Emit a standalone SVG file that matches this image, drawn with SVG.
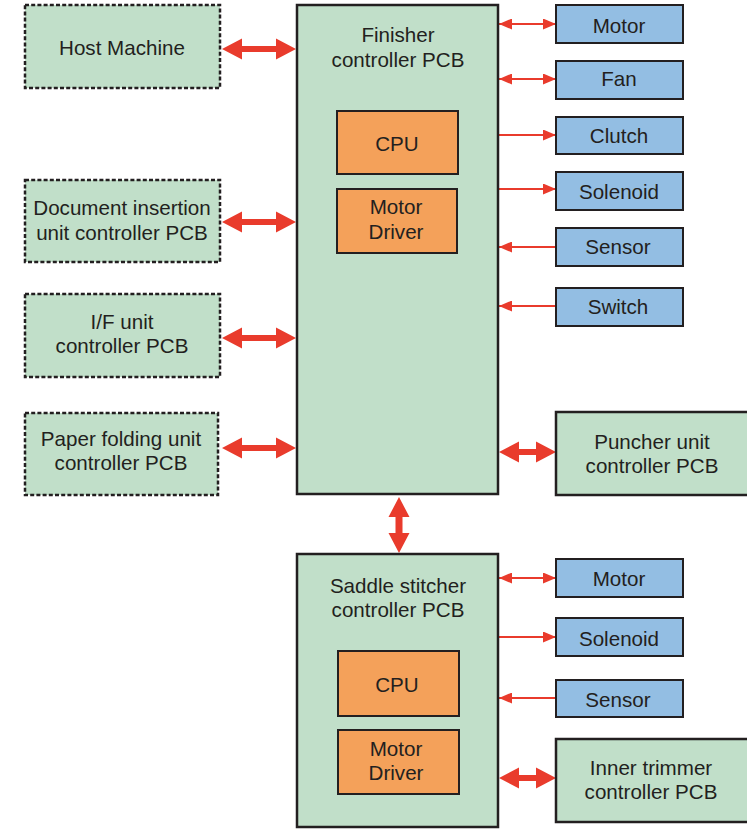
<svg xmlns="http://www.w3.org/2000/svg" width="747" height="830" viewBox="0 0 747 830">
  <style>
    text { font-family: "Liberation Sans", Arial, sans-serif; font-size: 20.6px; fill: #231f20; text-anchor: middle; }
    .board { fill: #c1dfc9; stroke: #231f20; stroke-width: 2.5; }
    .ext { fill: #c1dfc9; stroke: #231f20; stroke-width: 2.5; stroke-dasharray: 4 2.2; }
    .part { fill: #93bee3; stroke: #231f20; stroke-width: 2; }
    .chip { fill: #f4a15a; stroke: #231f20; stroke-width: 2; }
    .bus { fill: #e93b2c; stroke: none; }
    .sig { stroke: #e93b2c; stroke-width: 2; fill: none; }
  </style>
  <defs>
    <marker id="tip" viewBox="0 0 13 11" refX="13" refY="5.5" markerWidth="13" markerHeight="11" markerUnits="userSpaceOnUse" orient="auto-start-reverse">
      <path d="M0,0 L13,5.5 L0,11 Z" fill="#e93b2c"/>
    </marker>
  </defs>

  <!-- connectors -->
  <g id="connectors">
    <!-- wide data buses -->
    <path class="bus" d="M222,49 L242,38.5 L242,46 L276,46 L276,38.5 L296,49 L276,59.5 L276,52 L242,52 L242,59.5 Z"/>
    <path class="bus" d="M222,222 L242,211.5 L242,219 L276,219 L276,211.5 L296,222 L276,232.5 L276,225 L242,225 L242,232.5 Z"/>
    <path class="bus" d="M222,338 L242,327.5 L242,335 L276,335 L276,327.5 L296,338 L276,348.5 L276,341 L242,341 L242,348.5 Z"/>
    <path class="bus" d="M222,448 L242,437.5 L242,445 L276,445 L276,437.5 L296,448 L276,458.5 L276,451 L242,451 L242,458.5 Z"/>
    <path class="bus" d="M499,452 L519,441.5 L519,449 L536,449 L536,441.5 L556,452 L536,462.5 L536,455 L519,455 L519,462.5 Z"/>
    <path class="bus" d="M499,778 L519,767.5 L519,775 L536,775 L536,767.5 L556,778 L536,788.5 L536,781 L519,781 L519,788.5 Z"/>
    <path class="bus" d="M399,497 L409.5,517 L402.5,517 L402.5,533 L409.5,533 L399,553 L388.5,533 L395.5,533 L395.5,517 L388.5,517 Z"/>

    <!-- finisher I/O signals -->
    <line class="sig" x1="499" y1="24" x2="556" y2="24" marker-start="url(#tip)" marker-end="url(#tip)"/>
    <line class="sig" x1="499" y1="79" x2="556" y2="79" marker-start="url(#tip)" marker-end="url(#tip)"/>
    <line class="sig" x1="499" y1="135" x2="556" y2="135" marker-end="url(#tip)"/>
    <line class="sig" x1="499" y1="189" x2="556" y2="189" marker-end="url(#tip)"/>
    <line class="sig" x1="556" y1="247" x2="499" y2="247" marker-end="url(#tip)"/>
    <line class="sig" x1="556" y1="306" x2="499" y2="306" marker-end="url(#tip)"/>

    <!-- saddle stitcher I/O signals -->
    <line class="sig" x1="499" y1="578" x2="556" y2="578" marker-start="url(#tip)" marker-end="url(#tip)"/>
    <line class="sig" x1="499" y1="637" x2="556" y2="637" marker-end="url(#tip)"/>
    <line class="sig" x1="556" y1="698" x2="499" y2="698" marker-end="url(#tip)"/>
  </g>

  <!-- external units (dashed) -->
  <g id="host-machine">
    <rect class="ext" x="25" y="5" width="195" height="83"/>
    <text x="122" y="55">Host Machine</text>
  </g>
  <g id="document-insertion-pcb">
    <rect class="ext" x="25" y="180" width="195" height="82"/>
    <text x="122" y="215">Document insertion</text>
    <text x="122" y="240">unit controller PCB</text>
  </g>
  <g id="if-unit-pcb">
    <rect class="ext" x="25" y="294" width="195" height="83"/>
    <text x="122" y="329">I/F unit</text>
    <text x="122" y="353">controller PCB</text>
  </g>
  <g id="paper-folding-pcb">
    <rect class="ext" x="25" y="413" width="193" height="82"/>
    <text x="121" y="446">Paper folding unit</text>
    <text x="121" y="470">controller PCB</text>
  </g>

  <!-- finisher controller -->
  <g id="finisher-pcb">
    <rect class="board" x="297" y="5" width="201" height="489"/>
    <text x="398" y="42">Finisher</text>
    <text x="398" y="67">controller PCB</text>
  </g>
  <g id="finisher-cpu">
    <rect class="chip" x="337" y="111" width="121" height="63"/>
    <text x="397" y="151">CPU</text>
  </g>
  <g id="finisher-motor-driver">
    <rect class="chip" x="337" y="189" width="120" height="64"/>
    <text x="396" y="214">Motor</text>
    <text x="396" y="239">Driver</text>
  </g>

  <!-- finisher loads and inputs -->
  <g id="f-motor">
    <rect class="part" x="556" y="5" width="127" height="38"/>
    <text x="619" y="33">Motor</text>
  </g>
  <g id="f-fan">
    <rect class="part" x="556" y="61" width="127" height="38"/>
    <text x="619" y="86">Fan</text>
  </g>
  <g id="f-clutch">
    <rect class="part" x="556" y="117" width="127" height="37"/>
    <text x="619" y="143">Clutch</text>
  </g>
  <g id="f-solenoid">
    <rect class="part" x="556" y="172" width="127" height="38"/>
    <text x="619" y="199">Solenoid</text>
  </g>
  <g id="f-sensor">
    <rect class="part" x="556" y="228" width="127" height="38"/>
    <text x="618" y="254">Sensor</text>
  </g>
  <g id="f-switch">
    <rect class="part" x="556" y="288" width="127" height="38"/>
    <text x="618" y="314">Switch</text>
  </g>

  <g id="puncher-pcb">
    <rect class="board" x="556" y="412" width="194" height="83"/>
    <text x="652" y="449">Puncher unit</text>
    <text x="652" y="473">controller PCB</text>
  </g>

  <!-- saddle stitcher controller -->
  <g id="saddle-pcb">
    <rect class="board" x="297" y="554" width="201" height="273"/>
    <text x="398" y="593">Saddle stitcher</text>
    <text x="398" y="617">controller PCB</text>
  </g>
  <g id="saddle-cpu">
    <rect class="chip" x="338" y="651" width="121" height="65"/>
    <text x="397" y="692">CPU</text>
  </g>
  <g id="saddle-motor-driver">
    <rect class="chip" x="338" y="730" width="121" height="64"/>
    <text x="396" y="756">Motor</text>
    <text x="396" y="780">Driver</text>
  </g>

  <g id="s-motor">
    <rect class="part" x="556" y="559" width="127" height="38"/>
    <text x="619" y="586">Motor</text>
  </g>
  <g id="s-solenoid">
    <rect class="part" x="556" y="618" width="127" height="38"/>
    <text x="619" y="646">Solenoid</text>
  </g>
  <g id="s-sensor">
    <rect class="part" x="556" y="680" width="127" height="37"/>
    <text x="618" y="707">Sensor</text>
  </g>

  <g id="inner-trimmer-pcb">
    <rect class="board" x="556" y="739" width="194" height="83"/>
    <text x="651" y="775">Inner trimmer</text>
    <text x="651" y="799">controller PCB</text>
  </g>
</svg>
